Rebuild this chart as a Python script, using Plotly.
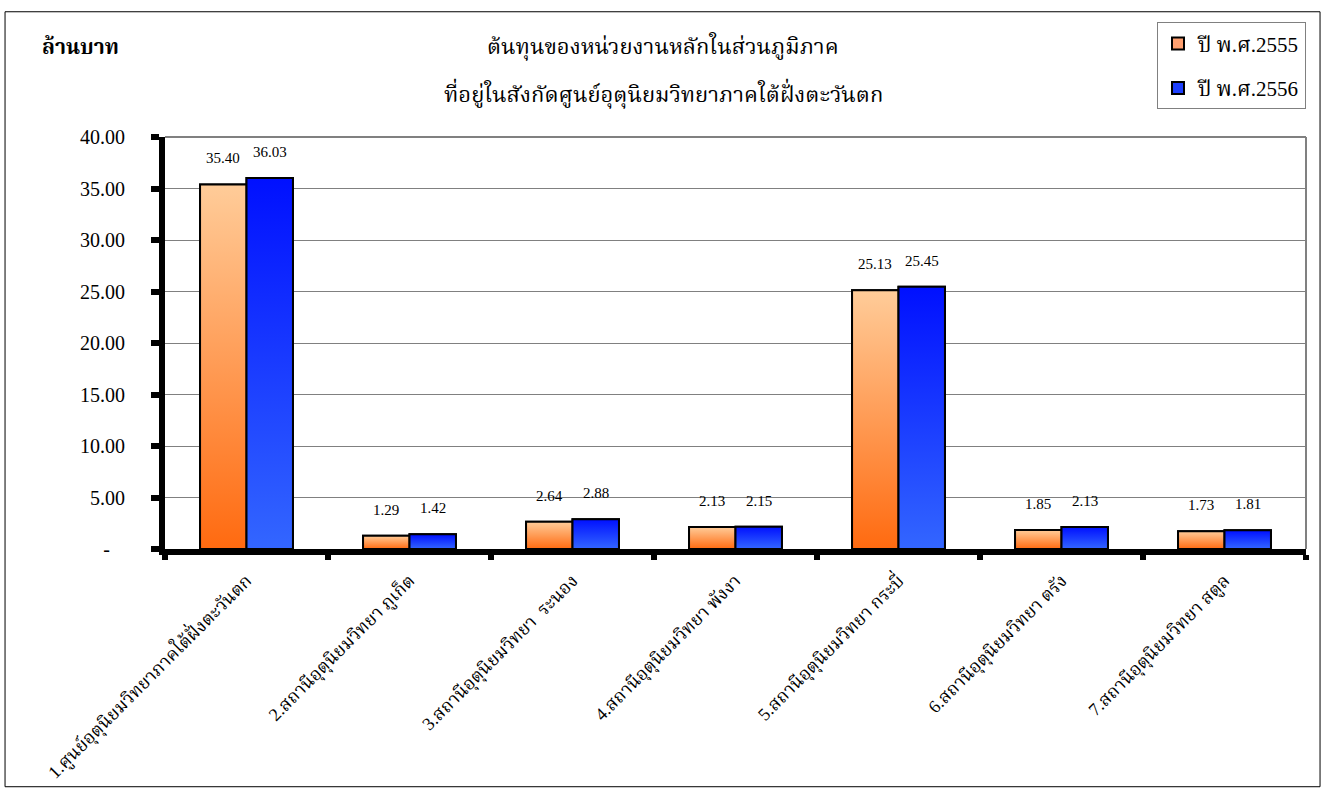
import plotly.graph_objects as go

categories = [
    "1.ศูนย์อุตุนิยมวิทยาภาคใต้ฝั่งตะวันตก",
    "2.สถานีอุตุนิยมวิทยา ภูเก็ต",
    "3.สถานีอุตุนิยมวิทยา  ระนอง",
    "4.สถานีอุตุนิยมวิทยา พังงา",
    "5.สถานีอุตุนิยมวิทยา กระบี่",
    "6.สถานีอุตุนิยมวิทยา ตรัง",
    "7.สถานีอุตุนิยมวิทยา สตูล",
]
series_names = ["ปี พ.ศ.2555", "ปี พ.ศ.2556"]
values_2555 = [35.40, 1.29, 2.64, 2.13, 25.13, 1.85, 1.73]
values_2556 = [36.03, 1.42, 2.88, 2.15, 25.45, 2.13, 1.81]
y_tickvals = [0, 5, 10, 15, 20, 25, 30, 35, 40]
y_ticktext = ["-\u00a0\u00a0\u00a0", "5.00", "10.00", "15.00", "20.00", "25.00", "30.00", "35.00", "40.00"]

FONT = "Liberation Serif, Times New Roman, Noto Serif Thai, Noto Sans Thai, serif"
W = 0.285  # bar width in category units
xpos = list(range(len(categories)))

series = [
    (series_names[0], values_2555, -W, "#FFA070", [[0, "#FF6A10"], [1, "#FFCC99"]]),
    (series_names[1], values_2556, 0.0, "#1E40FF", [[0, "#3366FF"], [1, "#0010FF"]]),
]

fig = go.Figure()

for name, vals, off, solid, cscale in series:
    fig.add_trace(go.Bar(
        x=xpos, y=vals, name=name, width=W, offset=off,
        marker=dict(color=solid, line=dict(color="black", width=2)),
        legendgroup=name, showlegend=True,
    ))

# gradient overlays, one per bar, computed from the same data
for name, vals, off, solid, cscale in series:
    for xi, v in zip(xpos, vals):
        x0 = xi + off
        x1 = x0 + W
        fig.add_trace(go.Scatter(
            x=[x0, x1, x1, x0, x0], y=[0, 0, v, v, 0],
            mode="lines", fill="toself",
            fillgradient=dict(type="vertical", colorscale=cscale),
            line=dict(color="black", width=2),
            showlegend=False, hoverinfo="skip", legendgroup=name,
        ))

# data labels
for name, vals, off, solid, cscale in series:
    for xi, v in zip(xpos, vals):
        fig.add_annotation(
            x=xi + off + W / 2, y=v, text=f"{v:.2f}", showarrow=False,
            xref="x", yref="y", yanchor="middle", yshift=26,
            font=dict(family=FONT, size=15, color="black"),
        )

# titles
fig.add_annotation(x=0.4365, y=1.26, xref="paper", yref="paper",
                   text="ต้นทุนของหน่วยงานหลักในส่วนภูมิภาค", showarrow=False,
                   font=dict(family=FONT, size=22, color="black"))
fig.add_annotation(x=0.4365, y=1.147, xref="paper", yref="paper",
                   text="ที่อยู่ในสังกัดศูนย์อุตุนิยมวิทยาภาคใต้ฝั่งตะวันตก", showarrow=False,
                   font=dict(family=FONT, size=22, color="black"))
fig.add_annotation(x=-0.1096, y=1.253, xref="paper", yref="paper", xanchor="left",
                   text="<b>ล้านบาท</b>", showarrow=False,
                   font=dict(family=FONT, size=21, color="black"))

# outer chart border
fig.add_shape(type="rect", xref="paper", yref="paper",
              x0=-0.1402, x1=1.0123, y0=-0.577, y1=1.304,
              line=dict(color="black", width=1), layer="below")
# plot-area border (top, right)
fig.add_shape(type="line", xref="paper", yref="paper", x0=0, x1=1, y0=1, y1=1,
              line=dict(color="#808080", width=2))
fig.add_shape(type="line", xref="paper", yref="paper", x0=1, x1=1, y0=0, y1=1,
              line=dict(color="#808080", width=2))

fig.update_layout(
    width=1326, height=796,
    margin=dict(l=165, r=20, t=137, b=245),
    paper_bgcolor="white", plot_bgcolor="white",
    showlegend=True,
    legend=dict(x=1.0, y=1.278, xanchor="right", yanchor="top",
                bordercolor="#808080", borderwidth=1, bgcolor="white",
                font=dict(family=FONT, size=21, color="black"),
                tracegroupgap=14, itemsizing="constant"),
    font=dict(family=FONT, color="black"),
    xaxis=dict(
        range=[-0.5, 6.5], tickvals=xpos, ticktext=categories, tickangle=-45,
        ticks="", showgrid=False, zeroline=False,
        showline=True, linecolor="black", linewidth=6,
        ticklabelstandoff=8,
        tickfont=dict(family=FONT, size=18, color="black"),
        minor=dict(tickvals=[i - 0.5 for i in range(len(categories) + 1)],
                   ticks="outside", ticklen=5, tickwidth=6, tickcolor="black", showgrid=False),
    ),
    yaxis=dict(
        range=[0, 40], tickvals=y_tickvals, ticktext=y_ticktext,
        ticks="outside", ticklen=8, tickwidth=6, tickcolor="black",
        ticklabelstandoff=22,
        showline=True, linecolor="black", linewidth=6,
        showgrid=True, gridcolor="#808080", gridwidth=1, zeroline=False,
        tickfont=dict(family=FONT, size=20, color="black"),
    ),
)

fig.write_html("out.html", config={"displayModeBar": False},
               post_script="document.body.style.margin='0';document.body.style.overflow='hidden';")
